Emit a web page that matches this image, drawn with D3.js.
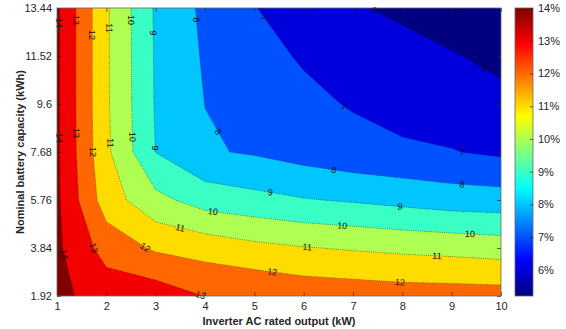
<!DOCTYPE html>
<html>
<head>
<meta charset="utf-8">
<script src="https://cdn.jsdelivr.net/npm/d3@7"></script>
<style>
  body { margin: 0; background: #fff; }
  text { font-family: "Liberation Sans", Arial, sans-serif; }
</style>
</head>
<body>
<div class="chart"></div>
<script>
// grid columns: inverter AC rated output (kW)
const inverterKw = [1, 2, 3, 4, 5, 6, 7, 8, 9, 10];
// grid rows: nominal battery capacity (kWh), bottom to top
const batteryKwh = [1.92, 3.84, 5.76, 7.68, 9.6, 11.52, 13.44];

// values (%) per battery row
const row1_92  = [14.22, 13.6, 13.57, 12.98, 12.9, 12.68, 12.59, 12.49, 12.47, 12.43];
const row3_84  = [14.18, 12.6, 11.86, 11.6, 11.27, 11.05, 10.91, 10.78, 10.68, 10.55];
const row5_76  = [14.17, 11.5, 10.28, 9.56, 9.3, 9.06, 8.9, 8.7, 8.5, 8.43];
const row7_68  = [14.15, 11.2, 8.98, 8.1, 7.9, 7.59, 7.32, 7.17, 7.04, 6.83];
const row9_6   = [14.15, 11.14, 8.92, 7.99, 7.5, 7.21, 6.93, 6.63, 6.54, 6.29];
const row11_52 = [14.15, 11.14, 8.9, 7.89, 7.29, 6.91, 6.5, 6.28, 6.07, 5.75];
const row13_44 = [14.15, 11.14, 8.87, 7.79, 7.03, 6.55, 6.08, 5.85, 5.45, 5.2];

const contourLevels = [6, 7, 8, 9, 10, 11, 12, 13, 14];
const colorbarTicks = [6, 7, 8, 9, 10, 11, 12, 13, 14];
const colorLimits = [5.2, 14];

// where clabel put its numbers: [level, kW, kWh]
const labelSpots = [
  [14, 1.0, 12.84], [14, 1.0, 8.24], [14, 1.1, 3.56],
  [13, 1.32, 12.96], [13, 1.32, 8.44], [13, 1.73, 3.84], [13, 3.9, 1.92],
  [12, 1.69, 12.36], [12, 1.69, 7.68], [12, 2.78, 3.84], [12, 5.36, 2.84], [12, 7.95, 2.48],
  [11, 2.03, 12.64], [11, 2.03, 8.04], [11, 3.49, 4.56], [11, 6.07, 3.84], [11, 8.7, 3.52],
  [10, 2.44, 12.96], [10, 2.5, 8.28], [10, 4.16, 5.28], [10, 6.78, 4.68], [10, 9.37, 4.36],
  [9, 2.9, 12.44], [9, 2.99, 7.84], [9, 5.32, 6.04], [9, 7.95, 5.44],
  [8, 3.74, 12.96], [8, 4.26, 8.48], [8, 6.6, 6.88], [8, 9.21, 6.36],
  [7, 5.18, 13.04], [7, 6.8, 9.44], [7, 9.21, 7.64],
  [6, 7.39, 13.24], [6, 9.64, 10.88]
];

const WIDTH = 566, HEIGHT = 329;
const MARGINS = {top: 8, right: 65, bottom: 33, left: 57};
const axisColor = '#262626';

const svg = d3.select('.chart').append('svg')
  .attr('width', WIDTH)
  .attr('height', HEIGHT);

const x = d3.scaleLinear()
  .domain([d3.min(inverterKw), d3.max(inverterKw)])
  .range([MARGINS.left, WIDTH - MARGINS.right]);
const y = d3.scaleLinear()
  .domain([d3.min(batteryKwh), d3.max(batteryKwh)])
  .range([HEIGHT - MARGINS.bottom, MARGINS.top]);

// matlab jet
function jet(t) {
  t = Math.max(0, Math.min(1, t));
  const c = v => Math.round(255 * Math.max(0, Math.min(1, v)));
  return d3.rgb(
    c(Math.min(4 * t - 1.5, -4 * t + 4.5)),
    c(Math.min(4 * t - 0.5, -4 * t + 3.5)),
    c(Math.min(4 * t + 0.5, -4 * t + 2.5))
  ).formatHex();
}
const color = v => jet((v - colorLimits[0]) / (colorLimits[1] - colorLimits[0]));

const nx = inverterKw.length, ny = batteryKwh.length;
const grid = [].concat(row1_92, row3_84, row5_76, row7_68, row9_6, row11_52, row13_44);
const contours = d3.contours().size([nx, ny]).thresholds(contourLevels)(grid);

// contour grid coords -> pixels (value i sits at i + 0.5)
const gx = d3.scaleLinear().domain([0.5, nx - 0.5]).range([x(inverterKw[0]), x(inverterKw[nx - 1])]);
const gy = d3.scaleLinear().domain([0.5, ny - 0.5]).range([y(batteryKwh[0]), y(batteryKwh[ny - 1])]);
const proj = d3.geoTransform({
  point: function (px, py) { this.stream.point(gx(px), gy(py)); }
});
const path = d3.geoPath(proj);

const x0 = x.range()[0], x1 = x.range()[1], yTop = y.range()[1], yBot = y.range()[0];

svg.append('clipPath').attr('id', 'plotclip')
  .append('rect')
  .attr('x', x0).attr('y', yTop)
  .attr('width', x1 - x0).attr('height', yBot - yTop);

const plot = svg.append('g').attr('clip-path', 'url(#plotclip)');

plot.append('rect')
  .attr('x', x0).attr('y', yTop)
  .attr('width', x1 - x0).attr('height', yBot - yTop)
  .attr('fill', color(colorLimits[0]));

plot.selectAll('.band')
  .data(contours)
  .enter()
  .append('path')
  .attr('class', 'band')
  .attr('d', path)
  .attr('fill', d => color(d.value));

plot.selectAll('.iso')
  .data(contours)
  .enter()
  .append('path')
  .attr('class', 'iso')
  .attr('d', path)
  .attr('fill', 'none')
  .attr('stroke', '#111')
  .attr('stroke-opacity', 0.75)
  .attr('stroke-width', 0.7)
  .attr('stroke-dasharray', '0.9 1.3');

// contour labels, snapped to the nearest piece of the contour
function nearestOnContour(level, px, py) {
  const c = contours.find(d => d.value === level);
  let best = null;
  c.coordinates.forEach(poly => poly.forEach(ring => {
    for (let i = 1; i < ring.length; i++) {
      const ax = gx(ring[i - 1][0]), ay = gy(ring[i - 1][1]);
      const bx = gx(ring[i][0]), by = gy(ring[i][1]);
      const inside = p => p[0] >= x0 - 1 && p[0] <= x1 + 1 && p[1] >= yTop - 1 && p[1] <= yBot + 1;
      if (!inside([ax, ay]) || !inside([bx, by])) continue;
      const dx = bx - ax, dy = by - ay;
      const len2 = dx * dx + dy * dy;
      if (len2 === 0) continue;
      let t = ((px - ax) * dx + (py - ay) * dy) / len2;
      t = Math.max(0, Math.min(1, t));
      const qx = ax + t * dx, qy = ay + t * dy;
      const dist = (qx - px) * (qx - px) + (qy - py) * (qy - py);
      if (!best || dist < best.dist) best = {x: qx, y: qy, dist: dist, dx: dx, dy: dy};
    }
  }));
  return best;
}

labelSpots.forEach(s => {
  const p = nearestOnContour(s[0], x(s[1]), y(s[2]));
  if (!p) return;
  let ang = Math.atan2(p.dy, p.dx) * 180 / Math.PI;
  if (ang > 90) ang -= 180;
  if (ang <= -90) ang += 180;
  svg.append('text')
    .attr('transform', 'translate(' + p.x + ',' + p.y + ') rotate(' + ang + ')')
    .attr('text-anchor', 'middle')
    .attr('dy', '0.35em')
    .style('font-size', '9px')
    .style('fill', '#111')
    .text(s[0]);
});

// axes, ticks pointing inward on all four sides
const tick = 4;
const xAxis = svg.append('g')
  .attr('transform', 'translate(0,' + yBot + ')')
  .call(d3.axisBottom(x).tickValues(inverterKw).tickSizeInner(-tick).tickSizeOuter(0).tickPadding(6).tickFormat(d3.format('d')));
const xAxisTop = svg.append('g')
  .attr('transform', 'translate(0,' + yTop + ')')
  .call(d3.axisTop(x).tickValues(inverterKw).tickSizeInner(-tick).tickSizeOuter(0).tickFormat(''));
const yAxis = svg.append('g')
  .attr('transform', 'translate(' + x0 + ',0)')
  .call(d3.axisLeft(y).tickValues(batteryKwh).tickSizeInner(-tick).tickSizeOuter(0).tickPadding(5).tickFormat(d => String(d)));
const yAxisRight = svg.append('g')
  .attr('transform', 'translate(' + x1 + ',0)')
  .call(d3.axisRight(y).tickValues(batteryKwh).tickSizeInner(-tick).tickSizeOuter(0).tickFormat(''));

[xAxis, xAxisTop, yAxis, yAxisRight].forEach(g => {
  g.select('.domain').remove();
  g.selectAll('line').attr('stroke', axisColor).attr('stroke-width', 0.7);
  g.selectAll('text')
    .style('font-size', '11px')
    .style('font-family', '"Liberation Sans", Arial, sans-serif')
    .attr('fill', axisColor);
});

svg.append('rect')
  .attr('x', x0).attr('y', yTop)
  .attr('width', x1 - x0).attr('height', yBot - yTop)
  .attr('fill', 'none')
  .attr('stroke', '#666')
  .attr('stroke-width', 0.8);

svg.append('text')
  .attr('x', (x0 + x1) / 2)
  .attr('y', 325)
  .attr('text-anchor', 'middle')
  .style('font-size', '11px')
  .style('font-weight', 'bold')
  .style('fill', axisColor)
  .text('Inverter AC rated output (kW)');

svg.append('text')
  .attr('transform', 'translate(24,' + ((yTop + yBot) / 2) + ') rotate(-90)')
  .attr('text-anchor', 'middle')
  .style('font-size', '11px')
  .style('font-weight', 'bold')
  .style('fill', axisColor)
  .text('Nominal battery capacity (kWh)');

// colorbar
const cbX = 515, cbW = 18;
const cbScale = d3.scaleLinear().domain(colorLimits).range([yBot, yTop]);
const grad = svg.append('defs').append('linearGradient')
  .attr('id', 'jetgrad')
  .attr('x1', 0).attr('y1', 1).attr('x2', 0).attr('y2', 0);
[0, 0.125, 0.375, 0.625, 0.875, 1].forEach(t => {
  grad.append('stop').attr('offset', t).attr('stop-color', jet(t));
});
svg.append('rect')
  .attr('x', cbX).attr('y', yTop)
  .attr('width', cbW).attr('height', yBot - yTop)
  .attr('fill', 'url(#jetgrad)')
  .attr('stroke', '#666')
  .attr('stroke-width', 0.8);

const cbAxis = svg.append('g')
  .attr('transform', 'translate(' + (cbX + cbW) + ',0)')
  .call(d3.axisRight(cbScale).tickValues(colorbarTicks).tickSizeInner(-3).tickSizeOuter(0).tickPadding(5).tickFormat(d => d + '%'));
cbAxis.select('.domain').remove();
cbAxis.selectAll('line').attr('stroke', axisColor).attr('stroke-width', 0.7);
cbAxis.selectAll('text')
  .style('font-size', '11px')
  .style('font-family', '"Liberation Sans", Arial, sans-serif')
  .attr('fill', axisColor);
</script>
</body>
</html>
